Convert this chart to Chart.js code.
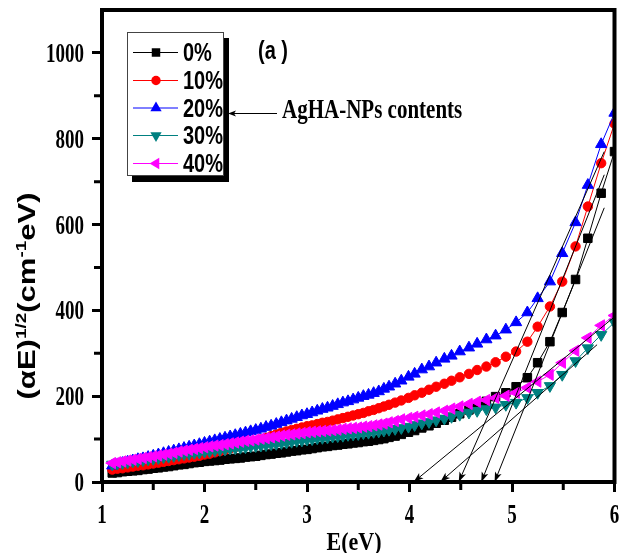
<!DOCTYPE html>
<html>
<head>
<meta charset="utf-8">
<script src="https://cdn.jsdelivr.net/npm/chart.js@4.4.0/dist/chart.umd.min.js"></script>
<style>
  html, body { margin: 0; padding: 0; background: #fff; }
  canvas { display: block; }
</style>
</head>
<body>
<canvas id="chart" width="622" height="553"></canvas>
<script>
// photon energy E (eV), shared by all five films
const energy = [
  1.10, 1.15, 1.20, 1.25, 1.30, 1.35, 1.40, 1.45, 1.50, 1.55,
  1.60, 1.65, 1.70, 1.75, 1.80, 1.85, 1.90, 1.95, 2.00, 2.05,
  2.10, 2.15, 2.20, 2.25, 2.30, 2.35, 2.40, 2.45, 2.50, 2.55,
  2.60, 2.65, 2.70, 2.75, 2.80, 2.85, 2.90, 2.95, 3.00, 3.05,
  3.10, 3.15, 3.20, 3.25, 3.30, 3.35, 3.40, 3.45, 3.50, 3.55,
  3.60, 3.65, 3.70, 3.75, 3.80, 3.86, 3.92, 3.99, 4.05, 4.12,
  4.19, 4.26, 4.34, 4.41, 4.49, 4.58, 4.66, 4.75, 4.84, 4.94,
  5.04, 5.15, 5.25, 5.37, 5.49, 5.62, 5.74, 5.87, 6.00
];

// (alpha E)^1/2 for each AgHA-NPs content
const ag0 = [
  21, 22, 24, 25, 26, 27, 29, 30, 32, 33,
  35, 36, 38, 40, 41, 43, 45, 46, 48, 49,
  50, 51, 53, 54, 55, 56, 58, 59, 60, 62,
  64, 65, 67, 68, 70, 72, 73, 75, 76, 78,
  80, 82, 83, 85, 86, 88, 89, 91, 92, 94,
  95, 97, 99, 101, 104, 107, 111, 116, 120, 126,
  131, 137, 144, 151, 159, 168, 177, 188, 199, 208,
  222, 243, 278, 327, 395, 472, 568, 673, 770
];
const ag10 = [
  29, 31, 32, 34, 36, 38, 39, 41, 43, 45,
  47, 49, 51, 53, 55, 57, 59, 61, 64, 66,
  69, 72, 75, 78, 81, 85, 88, 92, 95, 99,
  103, 107, 111, 115, 118, 121, 124, 127, 130, 132,
  135, 138, 140, 143, 146, 149, 152, 155, 158, 161,
  165, 168, 172, 176, 180, 185, 190, 196, 202, 208,
  215, 222, 229, 236, 244, 252, 261, 269, 279, 292,
  304, 327, 362, 409, 467, 549, 642, 743, 835
];
const ag20 = [
  38, 41, 44, 47, 50, 53, 55, 58, 61, 64,
  67, 70, 73, 76, 79, 82, 85, 88, 91, 94,
  97, 100, 103, 106, 109, 112, 115, 118, 121, 124,
  128, 131, 135, 139, 143, 147, 151, 155, 158, 162,
  166, 170, 173, 177, 181, 185, 188, 192, 196, 200,
  203, 207, 211, 217, 222, 229, 236, 245, 252, 262,
  269, 278, 287, 294, 304, 313, 322, 332, 341, 355,
  372, 395, 428, 467, 533, 605, 692, 787, 860
];
const ag30 = [
  41, 43, 44, 46, 48, 49, 51, 53, 54, 56,
  58, 59, 61, 63, 65, 66, 68, 69, 71, 72,
  74, 75, 76, 78, 79, 80, 81, 83, 84, 85,
  86, 88, 89, 91, 92, 94, 96, 97, 99, 100,
  102, 103, 104, 106, 107, 108, 110, 111, 112, 114,
  115, 117, 118, 120, 122, 124, 126, 129, 133, 137,
  140, 144, 148, 152, 157, 162, 166, 170, 174, 180,
  185, 196, 208, 224, 250, 282, 312, 343, 372
];
const ag40 = [
  44, 46, 48, 50, 52, 54, 56, 58, 60, 62,
  64, 66, 68, 71, 73, 75, 77, 79, 81, 83,
  85, 86, 88, 90, 92, 94, 96, 97, 99, 101,
  102, 104, 106, 108, 110, 111, 113, 114, 116, 117,
  118, 119, 120, 121, 122, 124, 125, 126, 127, 129,
  130, 132, 134, 136, 139, 142, 146, 149, 152, 155,
  158, 162, 166, 171, 176, 182, 187, 191, 196, 201,
  208, 220, 234, 250, 278, 306, 336, 365, 388
];

const seriesLabels = ['0%', '10%', '20%', '30%', '40%'];

// extrapolated linear parts: x-intercept (gap) and upper end of each line
const gapEnergy = [4.83, 4.70, 4.48, 4.30, 4.04];
const fitEndEnergy = [5.90, 5.90, 5.90, 5.83, 6.00];
const fitEndValue = [639, 716, 770, 320, 385];

const xTicks = [1, 2, 3, 4, 5, 6];
const yTicks = [0, 200, 400, 600, 800, 1000];

const colors = ['#000000', '#ff0000', '#0000ff', '#008080', '#ff00ff'];
const pointStyles = ['rect', 'circle', 'triangle', 'triangle', 'triangle'];
const pointRotations = [0, 0, 0, 180, 270];
const pointSizes = [6, 4.7, 6.5, 6.5, 6.5];
const allSeries = [ag0, ag10, ag20, ag30, ag40];

const datasets = allSeries.map((vals, i) => ({
  label: seriesLabels[i],
  data: energy.map((e, j) => ({ x: e, y: vals[j] })),
  borderColor: colors[i],
  backgroundColor: colors[i],
  borderWidth: 1,
  pointStyle: pointStyles[i],
  pointRotation: pointRotations[i],
  pointRadius: pointSizes[i],
  pointBorderWidth: 1,
  pointBorderColor: colors[i],
  pointBackgroundColor: colors[i],
  order: 5 - i + 1
}));

gapEnergy.forEach((g, i) => {
  datasets.push({
    label: 'fit ' + seriesLabels[i],
    isFit: true,
    data: [{ x: g, y: 0 }, { x: fitEndEnergy[i], y: fitEndValue[i] }],
    borderColor: '#000',
    borderWidth: 1,
    pointRadius: 0,
    order: 0
  });
});

function stretchedText(ctx, text, x, y, font, align, sy) {
  ctx.save();
  ctx.translate(x, y);
  ctx.scale(1, sy);
  ctx.font = font;
  ctx.textAlign = align;
  ctx.textBaseline = 'alphabetic';
  ctx.fillStyle = '#000';
  ctx.fillText(text, 0, 0);
  ctx.restore();
}

function arrowHead(ctx, tipX, tipY, fromX, fromY, len, half) {
  const a = Math.atan2(tipY - fromY, tipX - fromX);
  ctx.save();
  ctx.translate(tipX, tipY);
  ctx.rotate(a);
  ctx.beginPath();
  ctx.moveTo(0, 0);
  ctx.lineTo(-len, -half);
  ctx.lineTo(-len * 0.75, 0);
  ctx.lineTo(-len, half);
  ctx.closePath();
  ctx.fillStyle = '#000';
  ctx.fill();
  ctx.restore();
}

function drawMarker(ctx, style, rot, r, x, y, color) {
  ctx.save();
  ctx.translate(x, y);
  ctx.rotate(rot * Math.PI / 180);
  ctx.fillStyle = color;
  ctx.beginPath();
  if (style === 'rect') {
    const s = r * Math.SQRT1_2;
    ctx.rect(-s, -s, 2 * s, 2 * s);
  } else if (style === 'circle') {
    ctx.arc(0, 0, r, 0, Math.PI * 2);
  } else {
    for (let k = 0; k < 3; k++) {
      const a = k * 2 * Math.PI / 3;
      ctx[k ? 'lineTo' : 'moveTo'](Math.sin(a) * r, -Math.cos(a) * r);
    }
    ctx.closePath();
  }
  ctx.fill();
  ctx.restore();
}

const decorations = {
  id: 'decorations',
  afterDraw(chart) {
    const ctx = chart.ctx;
    const area = chart.chartArea;
    const xs = chart.scales.x, ys = chart.scales.y;

    // top and right frame
    ctx.save();
    ctx.strokeStyle = '#000';
    ctx.lineWidth = 4;
    ctx.beginPath();
    ctx.moveTo(area.left - 2, area.top);
    ctx.lineTo(area.right, area.top);
    ctx.lineTo(area.right, area.bottom + 2);
    ctx.stroke();

    // minor ticks
    ctx.lineWidth = 3;
    ctx.beginPath();
    for (let v = 1.5; v < 6; v += 1) {
      const px = xs.getPixelForValue(v);
      ctx.moveTo(px, area.bottom + 2);
      ctx.lineTo(px, area.bottom + 8);
    }
    for (let v = 100; v < 1000; v += 200) {
      const py = ys.getPixelForValue(v);
      ctx.moveTo(area.left - 2, py);
      ctx.lineTo(area.left - 8, py);
    }
    ctx.stroke();
    ctx.restore();

    // tick labels
    const tickFont = 'bold 19px "Liberation Serif", "Times New Roman", serif';
    xTicks.forEach(v => {
      stretchedText(ctx, String(v), xs.getPixelForValue(v), 523, tickFont, 'center', 1.4);
    });
    yTicks.forEach(v => {
      stretchedText(ctx, String(v), 84, ys.getPixelForValue(v) + 9, tickFont, 'right', 1.4);
    });

    // axis titles
    stretchedText(ctx, 'E(eV)', 354, 550, 'bold 22px "Liberation Serif", serif', 'center', 1.1);

    const big = 'bold 23px "Liberation Sans", Arial, sans-serif';
    const small = 'bold 14px "Liberation Sans", Arial, sans-serif';
    const parts = [['(\u03b1E)', big, 0], ['1/2', small, -9], ['(cm', big, 0], ['-1', small, -9], ['eV)', big, 0]];
    ctx.save();
    ctx.translate(35, 296);
    ctx.rotate(-Math.PI / 2);
    ctx.scale(1.35, 1);
    ctx.fillStyle = '#000';
    ctx.textBaseline = 'alphabetic';
    ctx.textAlign = 'left';
    let total = 0;
    parts.forEach(p => { ctx.font = p[1]; total += ctx.measureText(p[0]).width; });
    let tx = -total / 2;
    parts.forEach(p => { ctx.font = p[1]; ctx.fillText(p[0], tx, p[2]); tx += ctx.measureText(p[0]).width; });
    ctx.restore();

    // arrowheads on the extrapolated lines
    chart.data.datasets.forEach((ds, i) => {
      if (!ds.isFit) return;
      const pts = chart.getDatasetMeta(i).data;
      arrowHead(ctx, pts[0].x, pts[0].y, pts[1].x, pts[1].y, 10, 3.5);
    });

    // legend box with shadow
    ctx.save();
    ctx.fillStyle = '#000';
    ctx.fillRect(132, 38, 97, 144);
    ctx.fillStyle = '#fff';
    ctx.fillRect(127, 32, 96, 143);
    ctx.strokeStyle = '#444';
    ctx.lineWidth = 1;
    ctx.strokeRect(127.5, 32.5, 96, 143);
    const rowY = [52, 80, 107.5, 135, 163];
    seriesLabels.forEach((lab, i) => {
      ctx.strokeStyle = colors[i];
      ctx.lineWidth = 1;
      ctx.beginPath();
      ctx.moveTo(133, rowY[i] + 0.5);
      ctx.lineTo(178, rowY[i] + 0.5);
      ctx.stroke();
      drawMarker(ctx, pointStyles[i], pointRotations[i], pointSizes[i], 156, rowY[i] + 0.5, colors[i]);
      stretchedText(ctx, lab, 183, rowY[i] + 9, 'bold 20px "Liberation Sans", Arial, sans-serif', 'left', 1.25);
    });
    ctx.restore();

    // panel tag and annotation
    stretchedText(ctx, '(a )', 258, 59, 'bold 20px "Liberation Sans", Arial, sans-serif', 'left', 1.3);
    stretchedText(ctx, 'AgHA-NPs contents', 282, 118, 'bold 21px "Liberation Serif", serif', 'left', 1.3);
    ctx.save();
    ctx.strokeStyle = '#000';
    ctx.lineWidth = 1;
    ctx.beginPath();
    ctx.moveTo(277, 113.5);
    ctx.lineTo(232, 113.5);
    ctx.stroke();
    ctx.restore();
    arrowHead(ctx, 228, 113.5, 277, 113.5, 8, 3);
  }
};

const axisCommon = {
  grid: { drawOnChartArea: false, drawTicks: true, tickLength: 10, tickWidth: 3, tickColor: '#000' },
  border: { display: true, width: 4, color: '#000' }
};

new Chart(document.getElementById('chart').getContext('2d'), {
  type: 'line',
  data: { datasets: datasets },
  options: {
    responsive: false,
    animation: false,
    devicePixelRatio: 1,
    layout: { padding: { left: 0, top: 10, right: 6, bottom: 0 } },
    plugins: { legend: { display: false }, tooltip: { enabled: false } },
    scales: {
      x: {
        type: 'linear', min: 1, max: 6,
        ticks: { display: false, stepSize: 1 },
        grid: axisCommon.grid, border: axisCommon.border,
        afterFit: s => { s.height = 71; }
      },
      y: {
        type: 'linear', min: 0, max: 1100,
        ticks: { display: false, stepSize: 200 },
        grid: axisCommon.grid, border: axisCommon.border,
        afterBuildTicks: s => { s.ticks = s.ticks.filter(t => t.value % 200 === 0); },
        afterFit: s => { s.width = 102; }
      }
    }
  },
  plugins: [decorations]
});
</script>
</body>
</html>
